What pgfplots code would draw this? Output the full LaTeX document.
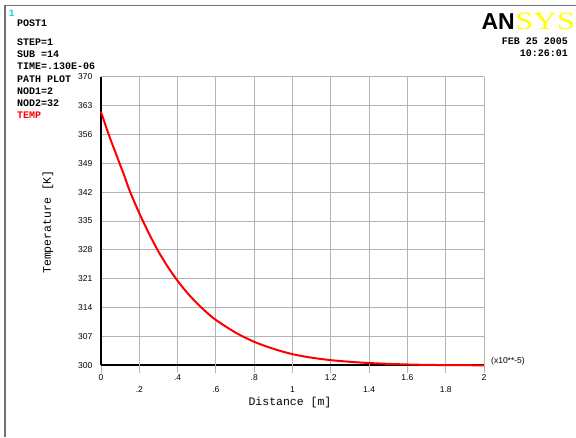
\documentclass[border=0pt]{standalone}
\usepackage{fontspec}
\usepackage{pgfplots}
\pgfplotsset{compat=1.18}
\setmainfont{Liberation Sans}
\newfontfamily\mono{Liberation Mono}
\newfontfamily\serif{Liberation Serif}
\definecolor{gridgray}{RGB}{180,180,180}
\definecolor{framegray}{RGB}{112,112,112}
\definecolor{ansysyellow}{RGB}{255,255,0}
\definecolor{ansyscyan}{RGB}{0,220,230}

\begin{document}
\begin{tikzpicture}[x=1pt,y=1pt]
\path[use as bounding box] (0,0) rectangle (576,437);
% outer frame (left and top only)
\draw[framegray, line width=1.8pt] (4.8,0) -- (4.8,431.5) -- (576,431.5);

\begin{axis}[
    at={(101pt,71.7pt)}, anchor=south west,
    scale only axis,
    width=383pt, height=288.6pt,
    xmin=0, xmax=2, ymin=300, ymax=370,
    axis lines*=left,
    axis line style={line width=2pt, black},
    grid=major,
    grid style={gridgray, line width=1pt},
    xtick={0,0.4,0.8,1.2,1.6,2},
    xticklabels={0,.4,.8,1.2,1.6,2},
    extra x ticks={0.2,0.6,1,1.4,1.8},
    extra x tick labels={.2,.6,1,1.4,1.8},
    extra x tick style={grid=major, xticklabel style={yshift=-12pt}},
    ytick={300,307,314,321,328,335,342,349,356,363,370},
    yticklabels={300,307,314,321,328,335,342,349,356,363,370},
    tick align=outside,
    major tick length=8pt,
    xtick style={draw=gridgray, line width=1pt},
    ytick style={draw=none},
    xticklabel style={inner sep=1.5pt},
    yticklabel style={inner sep=0.5pt},
    tick label style={font=\fontsize{8.5}{10}\selectfont},
    /pgf/number format/assume math mode=true,
    clip=false,
]
\addplot[red, line width=2pt, smooth] coordinates {
(0,361.5) (0.02,358.7) (0.04,356) (0.06,353.5) (0.08,351.1) (0.1,348.6)
(0.12,346.2) (0.15,342.3) (0.2,336.9) (0.25,332) (0.3,327.6) (0.35,323.8)
(0.4,320.5) (0.45,317.6) (0.5,315.1) (0.55,312.9) (0.6,311.0) (0.7,308.0)
(0.8,305.7) (0.9,304.0) (1.0,302.7) (1.1,301.85) (1.2,301.25) (1.3,300.85)
(1.4,300.55) (1.5,300.35) (1.6,300.2) (1.7,300.1) (1.8,300.05) (1.9,300.02) (2.0,300)
};
\end{axis}

% axis labels
\node[font=\mono\fontsize{11.5}{12}\selectfont, rotate=90] at (48,215) {Temperature [K]};
\node[font=\mono\fontsize{11.5}{12}\selectfont] at (290,34) {Distance [m]};
\node[font=\fontsize{8.5}{10}\selectfont, anchor=west, inner sep=0pt] at (491,76) {(x10**-5)};

% left info block
\node[ansyscyan, font=\bfseries\fontsize{9.5}{10}\selectfont, anchor=base west, inner sep=0pt] at (9,420.3) {1};
\begin{scope}[every node/.style={font=\mono\bfseries\fontsize{10}{11}\selectfont, anchor=base west, inner sep=0pt}]
\node at (17,410) {POST1};
\node at (17,391.3) {STEP=1};
\node at (17,379.7) {SUB =14};
\node at (17,367.7) {TIME=.130E-06};
\node at (17,354.7) {PATH PLOT};
\node at (17,342.7) {NOD1=2};
\node at (17,330.3) {NOD2=32};
\node[red] at (17,318) {TEMP};
\end{scope}

% logo and date
\node[font=\bfseries\fontsize{23}{24}\selectfont, anchor=base east, inner sep=0pt] at (515,407.7) {AN};
\node[ansysyellow, font=\serif\fontsize{25}{26}\selectfont, anchor=base west, inner sep=0pt, xscale=1.3] at (515,407.7) {SYS};
\node[font=\mono\bfseries\fontsize{10}{11}\selectfont, anchor=base east, inner sep=0pt] at (568,392) {FEB 25 2005};
\node[font=\mono\bfseries\fontsize{10}{11}\selectfont, anchor=base east, inner sep=0pt] at (568,380.3) {10:26:01};
\end{tikzpicture}
\end{document}
